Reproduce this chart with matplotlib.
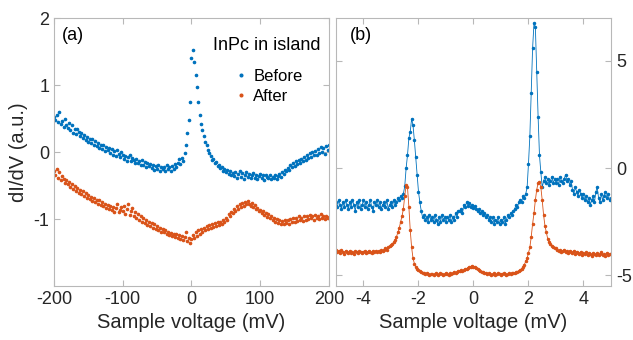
import matplotlib
matplotlib.use('Agg')
import matplotlib.pyplot as plt
import numpy as np

plt.rcParams['font.family'] = ['Liberation Sans', 'DejaVu Sans']
plt.rcParams['axes.unicode_minus'] = False

# ---- panel (a): wide bias range, sampled every 2 mV ----
v_a = np.arange(-200, 201, 2)
before_a = [
    0.52, 0.48, 0.55, 0.45, 0.60, 0.42, 0.47, 0.38, 0.50, 0.41,
    0.36, 0.44, 0.33, 0.40, 0.29, 0.35, 0.27, 0.34, 0.30, 0.24,
    0.28, 0.21, 0.26, 0.18, 0.23, 0.15, 0.20, 0.13, 0.19, 0.11,
    0.16, 0.09, 0.14, 0.06, 0.11, 0.04, 0.10, 0.02, 0.08, 0.03,
    0.06, -0.02, 0.04, -0.04, 0.01, -0.06, 0.03, -0.03, -0.07, 0.00,
    -0.04, -0.10, -0.06, -0.13, -0.08, -0.05, -0.14, -0.09, -0.12, -0.16,
    -0.10, -0.17, -0.13, -0.19, -0.12, -0.20, -0.15, -0.22, -0.17, -0.21,
    -0.18, -0.24, -0.20, -0.27, -0.21, -0.25, -0.19, -0.28, -0.23, -0.26,
    -0.22, -0.28, -0.20, -0.26, -0.23, -0.29, -0.21, -0.25, -0.18, -0.22,
    -0.16, -0.11, -0.18, -0.09, -0.13, -0.02, 0.10, 0.28, 0.48, 0.75,
    1.40, 1.53, 1.35, 1.15, 0.97, 0.74, 0.55, 0.42, 0.33, 0.24,
    0.15, 0.10, 0.03, -0.02, -0.06, -0.12, -0.10, -0.17, -0.15, -0.21,
    -0.19, -0.24, -0.22, -0.28, -0.25, -0.30, -0.27, -0.33, -0.29, -0.34,
    -0.31, -0.36, -0.30, -0.38, -0.33, -0.28, -0.37, -0.32, -0.40, -0.34,
    -0.30, -0.37, -0.33, -0.39, -0.35, -0.31, -0.38, -0.34, -0.40, -0.36,
    -0.33, -0.38, -0.35, -0.41, -0.34, -0.37, -0.39, -0.35, -0.40, -0.37,
    -0.38, -0.35, -0.40, -0.36, -0.33, -0.37, -0.30, -0.33, -0.27, -0.29,
    -0.24, -0.27, -0.20, -0.23, -0.17, -0.21, -0.14, -0.18, -0.12, -0.16,
    -0.10, -0.14, -0.07, -0.12, -0.04, -0.09, -0.02, -0.07, 0.00, -0.05,
    0.02, -0.04, 0.05, -0.02, 0.08, 0.00, 0.06, -0.03, 0.09, 0.03,
    0.10,
]
after_a = [
    -0.28, -0.35, -0.25, -0.38, -0.30, -0.42, -0.36, -0.40, -0.46, -0.41,
    -0.48, -0.44, -0.52, -0.47, -0.55, -0.50, -0.58, -0.53, -0.61, -0.56,
    -0.63, -0.58, -0.66, -0.61, -0.68, -0.64, -0.70, -0.67, -0.73, -0.69,
    -0.74, -0.71, -0.77, -0.72, -0.79, -0.75, -0.81, -0.77, -0.83, -0.79,
    -0.85, -0.80, -0.87, -0.82, -0.89, -0.84, -0.78, -0.90, -0.86, -0.82,
    -0.88, -0.80, -0.92, -0.85, -0.78, -0.94, -0.88, -0.84, -0.96, -0.90,
    -0.98, -0.92, -1.01, -0.95, -1.04, -0.99, -1.06, -1.01, -1.09, -1.04,
    -1.10, -1.06, -1.13, -1.08, -1.15, -1.11, -1.17, -1.13, -1.19, -1.15,
    -1.20, -1.17, -1.22, -1.19, -1.24, -1.21, -1.25, -1.22, -1.27, -1.23,
    -1.28, -1.24, -1.30, -1.26, -1.31, -1.27, -1.20, -1.33, -1.29, -1.36,
    -1.30, -1.24, -1.28, -1.20, -1.25, -1.17, -1.22, -1.15, -1.20, -1.13,
    -1.17, -1.11, -1.15, -1.09, -1.13, -1.08, -1.12, -1.06, -1.10, -1.05,
    -1.09, -1.04, -1.07, -1.02, -1.05, -0.98, -1.01, -0.93, -0.96, -0.89,
    -0.91, -0.85, -0.88, -0.81, -0.85, -0.78, -0.82, -0.76, -0.80, -0.74,
    -0.78, -0.73, -0.77, -0.80, -0.76, -0.82, -0.79, -0.85, -0.83, -0.88,
    -0.86, -0.91, -0.88, -0.94, -0.91, -0.97, -0.93, -0.99, -0.96, -1.02,
    -0.98, -1.04, -1.00, -1.06, -1.02, -1.08, -1.03, -1.07, -1.01, -1.06,
    -1.02, -1.07, -1.00, -1.05, -0.98, -1.04, -0.99, -1.03, -0.96, -1.02,
    -0.98, -1.03, -0.96, -1.01, -0.95, -1.00, -0.94, -0.99, -0.96, -1.01,
    -0.94, -0.99, -0.95, -1.00, -0.93, -0.98, -0.95, -1.00, -0.96, -0.99,
    -0.97,
]

# ---- panel (b): narrow bias range, sampled every 0.05 mV ----
v_b = np.round(np.arange(-5, 5.001, 0.05), 2)
before_b = [
    -1.6, -1.8, -1.5, -1.7, -1.9, -1.6, -1.8, -1.5, -1.7, -1.9,
    -1.6, -1.8, -1.5, -1.7, -2.0, -1.6, -1.8, -1.5, -1.9, -1.7,
    -1.5, -1.8, -1.6, -1.9, -1.7, -1.5, -1.8, -2.0, -1.6, -1.7,
    -1.5, -1.8, -1.6, -1.9, -1.7, -1.6, -1.8, -1.5, -1.9, -1.7,
    -1.6, -1.8, -1.5, -1.7, -1.6, -1.4, -1.5, -1.3, -1.4, -1.2,
    -0.85, 0.0, 0.6, 1.4, 1.7, 2.3, 2.0, 1.3, 0.5, -0.3,
    -1.1, -1.6, -2.0, -2.3, -2.2, -2.4, -2.3, -2.5, -2.2, -2.4,
    -2.3, -2.5, -2.2, -2.4, -2.6, -2.3, -2.5, -2.2, -2.4, -2.3,
    -2.5, -2.3, -2.4, -2.2, -2.5, -2.3, -2.4, -2.1, -2.3, -2.0,
    -2.0, -1.9, -2.1, -1.7, -1.8, -1.6, -1.75, -1.65, -1.8, -1.7,
    -1.85, -1.75, -1.9, -2.0, -1.9, -2.1, -2.0, -2.2, -2.1, -2.3,
    -2.2, -2.4, -2.3, -2.5, -2.3, -2.6, -2.4, -2.5, -2.3, -2.6,
    -2.4, -2.5, -2.3, -2.6, -2.4, -2.2, -2.3, -2.1, -2.2, -2.0,
    -1.9, -1.7, -1.8, -1.6, -1.5, -1.6, -1.3, -1.4, -1.2, -0.9,
    0.2, 1.5, 3.5, 5.6, 6.75, 6.6, 4.5, 2.4, 0.6, -0.2,
    -0.9, -0.6, -0.4, -0.7, -0.5, -0.8, -0.6, -0.4, -0.7, -0.5,
    -0.7, -0.5, -0.8, -0.4, -0.6, -0.7, -0.5, -0.3, -0.6, -0.5,
    -0.8, -0.6, -1.0, -1.2, -0.9, -1.1, -1.3, -1.0, -1.2, -1.4,
    -1.2, -1.5, -1.3, -1.6, -1.4, -1.7, -1.5, -1.3, -1.6, -1.1,
    -0.9, -1.4, -1.6, -1.2, -1.5, -1.3, -1.1, -1.4, -1.2, -1.5,
    -1.4,
]
after_b = [
    -3.8, -3.9, -3.85, -3.95, -3.8, -3.9, -4.0, -3.85, -3.9, -3.95,
    -3.85, -3.95, -3.9, -4.0, -3.85, -3.9, -3.95, -3.85, -3.9, -3.95,
    -3.9, -3.85, -3.95, -3.9, -3.85, -3.9, -3.95, -3.85, -3.9, -3.85,
    -3.9, -3.85, -3.9, -3.8, -3.85, -3.8, -3.75, -3.8, -3.7, -3.65,
    -3.6, -3.55, -3.45, -3.35, -3.2, -3.0, -2.8, -2.5, -2.25, -1.9,
    -1.3, -0.8, -0.9, -1.8, -2.9, -3.7, -4.2, -4.45, -4.6, -4.7,
    -4.75, -4.8, -4.85, -4.9, -4.9, -4.95, -4.9, -4.95, -5.0, -4.95,
    -4.95, -5.0, -4.95, -4.9, -5.0, -4.95, -4.9, -4.95, -5.0, -4.95,
    -4.9, -4.95, -5.0, -4.9, -4.95, -4.9, -4.85, -4.9, -4.85, -4.8,
    -4.8, -4.75, -4.8, -4.75, -4.7, -4.7, -4.65, -4.6, -4.6, -4.55,
    -4.6, -4.6, -4.65, -4.7, -4.75, -4.8, -4.85, -4.85, -4.9, -4.9,
    -4.95, -4.9, -4.95, -5.0, -4.95, -4.9, -5.0, -4.95, -4.9, -4.95,
    -5.0, -4.95, -4.9, -4.95, -5.0, -4.95, -4.9, -4.95, -4.9, -4.9,
    -4.9, -4.85, -4.85, -4.8, -4.75, -4.7, -4.6, -4.5, -4.35, -4.2,
    -3.95, -3.7, -3.2, -2.6, -2.1, -1.5, -1.0, -0.7, -0.65, -0.9,
    -1.5, -2.2, -2.7, -3.0, -3.3, -3.45, -3.55, -3.65, -3.7, -3.75,
    -3.75, -3.8, -3.85, -3.8, -3.9, -3.85, -3.8, -3.9, -3.85, -3.95,
    -3.85, -3.9, -3.95, -3.85, -4.0, -3.9, -3.95, -4.0, -3.9, -4.05,
    -3.95, -4.0, -3.9, -4.05, -3.95, -4.0, -4.1, -3.95, -4.0, -4.05,
    -3.95, -4.05, -4.0, -3.9, -4.05, -4.0, -4.1, -3.95, -4.05, -4.0,
    -4.0,
]

blue = '#0072BD'
orange = '#D95319'
spine_col = '#b8b8b8'
text_col = '#262626'

fig = plt.figure(figsize=(6.33, 3.40), dpi=100)
ax1 = fig.add_axes([0.0853, 0.1588, 0.4344, 0.788])
ax2 = fig.add_axes([0.5308, 0.1588, 0.4344, 0.788])

ax1.plot(v_a, before_a, '.', color=blue, ms=3.2, label='Before')
ax1.plot(v_a, after_a, '.', color=orange, ms=3.2, label='After')
ax1.set_xlim(-200, 200)
ax1.set_ylim(-2, 2)
ax1.set_xticks([-200, -100, 0, 100, 200])
ax1.set_yticks([-1, 0, 1, 2])
ax1.set_xlabel('Sample voltage (mV)', fontsize=14.5, color=text_col)
ax1.set_ylabel('dI/dV (a.u.)', fontsize=14.5, color=text_col, labelpad=4)
ax1.text(0.03, 0.965, '(a)', transform=ax1.transAxes, fontsize=13,
         va='top', ha='left', color='black')
ax1.text(0.775, 0.898, 'InPc in island', transform=ax1.transAxes,
         fontsize=13, ha='center', va='center', color='black')
ax1.legend(frameon=False, loc='upper left', bbox_to_anchor=(0.655, 0.81),
           fontsize=12, markerscale=1.2, handlelength=0.8,
           handletextpad=0.35, labelspacing=0.3, borderpad=0.0,
           borderaxespad=0.0)

ax2.plot(v_b, before_b, '.-', color=blue, ms=3.0, lw=0.6)
ax2.plot(v_b, after_b, '.-', color=orange, ms=3.0, lw=0.6)
ax2.set_xlim(-5, 5)
ax2.set_ylim(-5.5, 7)
ax2.set_xticks([-4, -2, 0, 2, 4])
ax2.set_yticks([-5, 0, 5])
ax2.yaxis.tick_right()
ax2.set_xlabel('Sample voltage (mV)', fontsize=14.5, color=text_col)
ax2.text(0.05, 0.965, '(b)', transform=ax2.transAxes, fontsize=13,
         va='top', ha='left', color='black')

for ax in (ax1, ax2):
    for s in ax.spines.values():
        s.set_color(spine_col)
        s.set_linewidth(0.8)
    ax.tick_params(direction='in', length=4, width=0.8, color=spine_col,
                   labelcolor=text_col, labelsize=13, top=True, right=True,
                   left=True, bottom=True)
ax2.tick_params(labelleft=False, labelright=True)

fig.savefig('out.png', dpi=100)
